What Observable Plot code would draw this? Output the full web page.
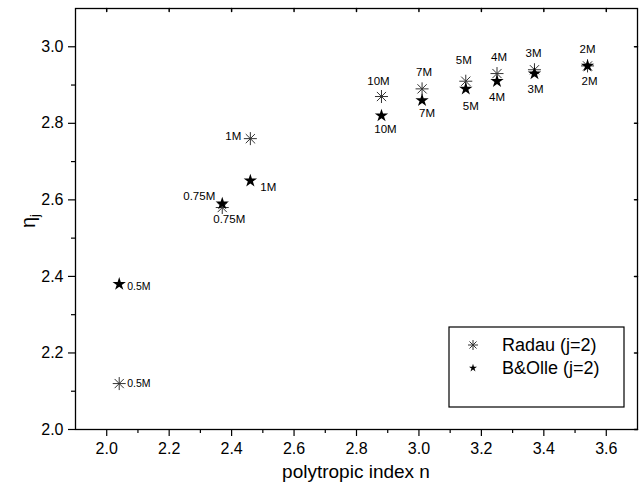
<!DOCTYPE html>
<html><head><meta charset="utf-8">
<script src="https://cdn.jsdelivr.net/npm/d3@7"></script>
<script src="https://cdn.jsdelivr.net/npm/@observablehq/plot@0.6"></script>
<style>body{margin:0;background:#fff} svg{display:block}</style>
</head><body><div id="chart"></div>
<script>
// ---- data ----
const masses   = ["0.5M", "0.75M", "1M", "10M", "7M", "5M", "4M", "3M", "2M"];
const radauN   = [2.04, 2.37, 2.46, 2.88, 3.01, 3.15, 3.25, 3.37, 3.54];
const radauEta = [2.12, 2.58, 2.76, 2.87, 2.89, 2.91, 2.93, 2.94, 2.95];
const bolleN   = [2.04, 2.37, 2.46, 2.88, 3.01, 3.15, 3.25, 3.37, 3.54];
const bolleEta = [2.38, 2.59, 2.65, 2.82, 2.86, 2.89, 2.91, 2.93, 2.95];
const seriesNames = ["Radau (j=2)", "B&Olle (j=2)"];
const xTicks = [2.0, 2.2, 2.4, 2.6, 2.8, 3.0, 3.2, 3.4, 3.6];
const xMinor = [2.1, 2.3, 2.5, 2.7, 2.9, 3.1, 3.3, 3.5];
const yTicks = [2.0, 2.2, 2.4, 2.6, 2.8, 3.0];
const yMinor = [2.1, 2.3, 2.5, 2.7, 2.9];
const xLabel = "polytropic index n";

const radau = masses.map((m, i) => ({n: radauN[i], eta: radauEta[i], m}));
const bolle = masses.map((m, i) => ({n: bolleN[i], eta: bolleEta[i], m}));

// ---- label placement (style) ----
const radauLab = [
  {dx: 8, dy: 0, a: "start", fs: 10.5},
  {dx: 7, dy: 12, a: "middle", fs: 11.5},
  {dx: -9, dy: -2, a: "end", fs: 11.5},
  {dx: -3, dy: -15, a: "middle", fs: 11.5},
  {dx: 2, dy: -17, a: "middle", fs: 11.5},
  {dx: -2, dy: -21, a: "middle", fs: 11.5},
  {dx: 2, dy: -16, a: "middle", fs: 11.5},
  {dx: -1, dy: -16, a: "middle", fs: 11.5},
  {dx: 0, dy: -17, a: "middle", fs: 11.5}
];
const bolleLab = [
  {dx: 8, dy: 3, a: "start", fs: 10.5},
  {dx: -7, dy: -7, a: "end", fs: 11.5},
  {dx: 10, dy: 7, a: "start", fs: 11.5},
  {dx: 4, dy: 14, a: "middle", fs: 11.5},
  {dx: 5, dy: 13, a: "middle", fs: 11.5},
  {dx: 5, dy: 17, a: "middle", fs: 11.5},
  {dx: 0, dy: 16, a: "middle", fs: 11.5},
  {dx: 1, dy: 16, a: "middle", fs: 11.5},
  {dx: 2, dy: 15, a: "middle", fs: 11.5}
];

const asterisk8 = {
  draw(ctx, size) {
    const r = Math.sqrt(size / Math.PI);
    const d = r * Math.SQRT1_2;
    ctx.moveTo(-r, 0); ctx.lineTo(r, 0);
    ctx.moveTo(0, -r); ctx.lineTo(0, r);
    ctx.moveTo(-d, -d); ctx.lineTo(d, d);
    ctx.moveTo(-d, d); ctx.lineTo(d, -d);
  }
};

const labelMarks = [];
radau.forEach((d, i) => {
  const L = radauLab[i];
  labelMarks.push(Plot.text([d], {x: "n", y: "eta", text: "m", dx: L.dx, dy: L.dy, textAnchor: L.a, fontSize: L.fs, fill: "black"}));
});
bolle.forEach((d, i) => {
  const L = bolleLab[i];
  labelMarks.push(Plot.text([d], {x: "n", y: "eta", text: "m", dx: L.dx, dy: L.dy, textAnchor: L.a, fontSize: L.fs, fill: "black"}));
});

const fmt = d => d.toFixed(1);
const chart = Plot.plot({
  width: 640, height: 490,
  marginLeft: 75, marginRight: 3, marginTop: 8, marginBottom: 61,
  x: {domain: [1.9, 3.7]},
  y: {domain: [2.0, 3.1]},
  style: {fontFamily: "'Liberation Sans', Arial, sans-serif", background: "white", color: "black"},
  marks: [
    Plot.axisX({ticks: xTicks, tickSize: 7, tickPadding: 6, tickFormat: fmt, fontSize: 16, label: null, stroke: "black", strokeWidth: 1.2}),
    Plot.axisX({ticks: xMinor, tickSize: 4, tickFormat: () => "", label: null, stroke: "black", strokeWidth: 1.2}),
    Plot.axisY({ticks: yTicks, tickSize: 7, tickPadding: 5, tickFormat: fmt, fontSize: 16, label: null, stroke: "black", strokeWidth: 1.2}),
    Plot.axisY({ticks: yMinor, tickSize: 4, tickFormat: () => "", label: null, stroke: "black", strokeWidth: 1.2}),
    Plot.vector(xTicks, {x: d => d, frameAnchor: "top", length: 3, rotate: 180, anchor: "start", r: 0, stroke: "black"}),
    Plot.vector(yTicks, {y: d => d, frameAnchor: "right", length: 3, rotate: -90, anchor: "start", r: 0, stroke: "black"}),
    Plot.frame({stroke: "black", strokeWidth: 1.3}),
    Plot.dot(radau, {x: "n", y: "eta", symbol: asterisk8, r: 6.5, stroke: "#333", strokeWidth: 1, fill: "none"}),
    Plot.dot(bolle, {x: "n", y: "eta", symbol: "star", r: 4.2, fill: "black", stroke: "none"}),
    ...labelMarks
  ]
});
document.getElementById("chart").append(chart);

// axis titles and legend
const svg = d3.select(chart);
const ff = "'Liberation Sans', Arial, sans-serif";
svg.append("text")
  .attr("x", 356).attr("y", 471)
  .attr("text-anchor", "middle").attr("dominant-baseline", "central")
  .attr("font-family", ff).attr("font-size", 19).attr("fill", "black")
  .text(xLabel);
const yl = svg.append("text")
  .attr("transform", "translate(28,221) rotate(-90)")
  .attr("text-anchor", "middle").attr("dominant-baseline", "central")
  .attr("font-family", ff).attr("font-size", 20).attr("fill", "black");
yl.append("tspan").text("η");
yl.append("tspan").attr("font-size", 13).attr("dy", 6).text("j");

const lg = svg.append("g");
lg.append("rect").attr("x", 449).attr("y", 327).attr("width", 175).attr("height", 80)
  .attr("fill", "white").attr("stroke", "black").attr("stroke-width", 1.2);
lg.append("path").attr("transform", "translate(473,345)")
  .attr("d", d3.symbol(asterisk8, Math.PI * 25)()).attr("stroke", "#333").attr("fill", "none");
lg.append("path").attr("transform", "translate(473,368)")
  .attr("d", d3.symbol(d3.symbolStar, 20)()).attr("fill", "black");
seriesNames.forEach((s, i) => {
  lg.append("text").attr("x", 502).attr("y", 345 + 23 * i)
    .attr("text-anchor", "start").attr("dominant-baseline", "central")
    .attr("font-family", ff).attr("font-size", 18).attr("fill", "black").text(s);
});
</script>
</body></html>
